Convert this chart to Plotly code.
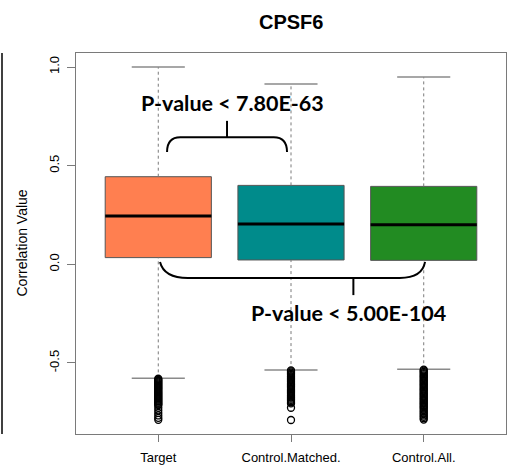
import plotly.graph_objects as go

# ---------------- data ----------------
categories = ["Target", "Control.Matched.", "Control.All."]
positions = [1, 2, 3]
q1 = [0.034, 0.022, 0.020]
median = [0.245, 0.204, 0.201]
q3 = [0.444, 0.400, 0.395]
lower_whisker = [-0.578, -0.536, -0.532]
upper_whisker = [1.000, 0.914, 0.949]
box_colors = ["#FF7F50", "#008B8B", "#228B22"]

outliers_target = [-0.580, -0.585, -0.590, -0.595, -0.600, -0.605, -0.610, -0.615,
                   -0.620, -0.625, -0.630, -0.635, -0.640, -0.645, -0.650, -0.655,
                   -0.660, -0.665, -0.670, -0.675, -0.680, -0.685, -0.690, -0.695,
                   -0.700, -0.705, -0.710, -0.714, -0.727, -0.740, -0.753, -0.766,
                   -0.778, -0.788]
outliers_matched = [-0.538, -0.543, -0.549, -0.555, -0.561, -0.567, -0.573, -0.579,
                    -0.585, -0.591, -0.597, -0.603, -0.609, -0.615, -0.621, -0.627,
                    -0.633, -0.639, -0.645, -0.651, -0.657, -0.663, -0.669, -0.675,
                    -0.681, -0.687, -0.693, -0.699, -0.705, -0.727, -0.789]
outliers_all = [-0.534, -0.539, -0.545, -0.551, -0.557, -0.563, -0.569, -0.575,
                -0.581, -0.587, -0.593, -0.599, -0.605, -0.611, -0.617, -0.623,
                -0.629, -0.635, -0.641, -0.647, -0.653, -0.659, -0.665, -0.671,
                -0.677, -0.683, -0.689, -0.695, -0.701, -0.707, -0.713, -0.719,
                -0.725, -0.731, -0.738, -0.745, -0.752, -0.759, -0.766, -0.773,
                -0.780, -0.787]
outliers = [outliers_target, outliers_matched, outliers_all]

pvalue_labels = ["P-value < 7.80E-63", "P-value < 5.00E-104"]
title_text = "CPSF6"
y_title = "Correlation Value"
y_tickvals = [-0.5, 0.0, 0.5, 1.0]
y_ticktext = ["-0.5", "0.0", "0.5", "1.0"]

# ---------------- styling ----------------
BOX_W = 0.8
STAPLE_W = 0.4
AXIS_FONT = "Liberation Sans, Arial, sans-serif"
ANN_FONT = "Lato, Open Sans, sans-serif"
GRAY = "#7a7a7a"

fig = go.Figure()

# box bodies
fig.add_trace(go.Bar(
    x=positions,
    y=[b - a for a, b in zip(q1, q3)],
    base=q1,
    width=BOX_W,
    marker=dict(color=box_colors, line=dict(color="#555555", width=1)),
    showlegend=False, hoverinfo="skip",
))

# whiskers (dashed)
wx, wy = [], []
for p, a, b, lo, hi in zip(positions, q1, q3, lower_whisker, upper_whisker):
    wx += [p, p, None, p, p, None]
    wy += [b, hi, None, lo, a, None]
fig.add_trace(go.Scatter(x=wx, y=wy, mode="lines",
                         line=dict(color=GRAY, width=1, dash="3px,3px"),
                         showlegend=False, hoverinfo="skip"))

# staples
sx, sy = [], []
for p, lo, hi in zip(positions, lower_whisker, upper_whisker):
    sx += [p - STAPLE_W / 2, p + STAPLE_W / 2, None, p - STAPLE_W / 2, p + STAPLE_W / 2, None]
    sy += [hi, hi, None, lo, lo, None]
fig.add_trace(go.Scatter(x=sx, y=sy, mode="lines",
                         line=dict(color="#8a8a8a", width=1.5),
                         showlegend=False, hoverinfo="skip"))

# medians
mx, my = [], []
for p, m in zip(positions, median):
    mx += [p - BOX_W / 2, p + BOX_W / 2, None]
    my += [m, m, None]
fig.add_trace(go.Scatter(x=mx, y=my, mode="lines",
                         line=dict(color="black", width=3),
                         showlegend=False, hoverinfo="skip"))

# outliers
for p, vals in zip(positions, outliers):
    fig.add_trace(go.Scatter(
        x=[p] * len(vals), y=vals, mode="markers",
        marker=dict(symbol="circle-open", size=7, color="black", line=dict(width=1.3)),
        showlegend=False, hoverinfo="skip"))

# ---------------- brackets ----------------
# top bracket between Target and Control.Matched.
tb_l, tb_r = positions[0] + 0.066, positions[1] - 0.03
tb_end, tb_top = max(q3) + 0.125, max(q3) + 0.20
tb_mid = (tb_l + tb_r) / 2
top_path = (f"M {tb_l},{tb_end} Q {tb_l},{tb_top} {tb_l + 0.10},{tb_top} "
            f"L {tb_r - 0.10},{tb_top} Q {tb_r},{tb_top} {tb_r},{tb_end}")
fig.add_shape(type="path", path=top_path, xref="x", yref="y",
              line=dict(color="black", width=2))
fig.add_shape(type="line", x0=tb_mid, x1=tb_mid, y0=tb_top, y1=tb_top + 0.083,
              xref="x", yref="y", line=dict(color="black", width=2))

# bottom bracket between Target and Control.All.
bb_l, bb_r = positions[0] + 0.013, positions[2] + 0.01
bb_end, bb_bot = min(q1) - 0.008, min(q1) - 0.089
bb_tick = 2.47
bot_path = (f"M {bb_l},{bb_end} Q {bb_l + 0.03},{bb_bot} {bb_l + 0.21},{bb_bot} "
            f"L {bb_r - 0.19},{bb_bot} Q {bb_r - 0.02},{bb_bot} {bb_r},{bb_end}")
fig.add_shape(type="path", path=bot_path, xref="x", yref="y",
              line=dict(color="black", width=2))
fig.add_shape(type="line", x0=bb_tick, x1=bb_tick, y0=bb_bot, y1=bb_bot - 0.087,
              xref="x", yref="y", line=dict(color="black", width=2))

fig.add_annotation(x=1.56, y=0.817, xref="x", yref="y", text=f"<b>{pvalue_labels[0]}</b>",
                   showarrow=False, font=dict(family=ANN_FONT, size=21.5, color="black"))
fig.add_annotation(x=2.43, y=-0.247, xref="x", yref="y", text=f"<b>{pvalue_labels[1]}</b>",
                   showarrow=False, font=dict(family=ANN_FONT, size=21.5, color="black"))

# title and y-axis label
fig.add_annotation(x=0.5, y=1 + 31 / 381, xref="paper", yref="paper", text=f"<b>{title_text}</b>",
                   showarrow=False, yanchor="middle",
                   font=dict(family=AXIS_FONT, size=20, color="black"))
fig.add_annotation(x=-55 / 430, y=0.5, xref="paper", yref="paper", text=y_title,
                   textangle=-90, showarrow=False, xanchor="center", yanchor="middle",
                   font=dict(family=AXIS_FONT, size=14, color="black"))

# stray left frame line seen at the image edge
fig.add_shape(type="line", xref="paper", yref="paper", x0=-74 / 430, x1=-74 / 430, y0=0, y1=1,
              line=dict(color="black", width=1.5))

fig.update_layout(
    width=517, height=467,
    margin=dict(l=76, r=11, t=53, b=33, autoexpand=False),
    paper_bgcolor="white", plot_bgcolor="white",
    showlegend=False,
    font=dict(family=AXIS_FONT, size=13, color="black"),
)
fig.update_xaxes(range=[0.38, 3.62], tickvals=positions, ticktext=categories,
                 automargin=False,
                 ticks="outside", ticklen=7, tickcolor=GRAY, tickwidth=1.3,
                 ticklabelstandoff=4,
                 showline=True, mirror=True, linecolor=GRAY, linewidth=1.3,
                 showgrid=False, zeroline=False,
                 tickfont=dict(family=AXIS_FONT, size=13, color="black"))
fig.update_yaxes(range=[-0.860, 1.071], tickvals=y_tickvals, ticktext=y_ticktext,
                 automargin=False,
                 tickangle=-90, ticks="outside", ticklen=8, tickcolor=GRAY, tickwidth=1.3,
                 ticklabelstandoff=3,
                 showline=True, mirror=True, linecolor=GRAY, linewidth=1.3,
                 showgrid=False, zeroline=False,
                 tickfont=dict(family=AXIS_FONT, size=13, color="black"))

fig.write_html("out.html", config={"displayModeBar": False},
               post_script="document.body.style.margin='0';document.body.style.overflow='hidden';")
